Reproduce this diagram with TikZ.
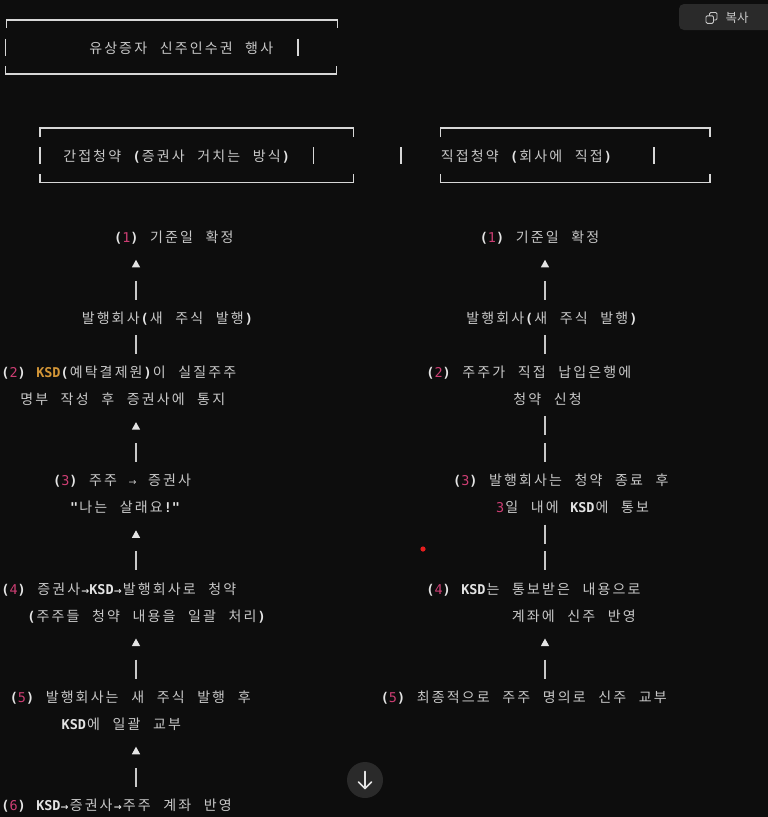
\documentclass[tikz,border=0pt]{standalone}
\usepackage{fontspec}
\usetikzlibrary{calc}
\newfontfamily\krf{Noto Sans CJK KR}
\newfontfamily\asf{DejaVu Sans Mono}
\newfontfamily\syf{DejaVu Sans}
\definecolor{bg}{RGB}{13,13,13}
\definecolor{txt}{RGB}{200,200,200}
\definecolor{wh}{RGB}{228,228,228}
\definecolor{pk}{RGB}{205,62,115}
\definecolor{orng}{RGB}{212,150,55}
\definecolor{frame}{RGB}{215,215,215}
\definecolor{btn}{RGB}{42,42,42}
\definecolor{reddot}{RGB}{230,30,30}

\ExplSyntaxOn
\dim_new:N \l__rs_a_dim
\dim_new:N \l__rs_h_dim
\dim_new:N \l__rs_s_dim
\dim_set:Nn \l__rs_a_dim {8.1pt}
\dim_set:Nn \l__rs_h_dim {15pt}
\dim_set:Nn \l__rs_s_dim {10.5pt}
\tl_new:N \l__rs_line_tl
\cs_new_protected:Npn \rssp { \hbox_to_wd:nn { \l__rs_s_dim } { } }
\cs_new_protected:Npn \rsarr
  { \hbox_to_wd:nn { \l__rs_a_dim } { \hss \syf\fontsize{9.5}{10}\selectfont → \hss } }
\cs_new_protected:Npn \__rs_item:n #1
  {
    \tl_if_single_token:nTF {#1}
      {
        \token_if_cs:NTF #1
          { #1 }
          {
            \int_compare:nNnTF { `#1 } > { 255 }
              { \hbox_to_wd:nn { \l__rs_h_dim } { \hss \krf\fontsize{14}{16}\selectfont #1 \hss } }
              { \hbox_to_wd:nn { \l__rs_a_dim } { \hss \asf\fontsize{13.5}{16}\selectfont #1 \hss } }
          }
      }
      { #1 }
  }
\NewDocumentCommand \mono { m }
  {
    \tl_set:Nn \l__rs_line_tl {#1}
    \tl_replace_all:Nnn \l__rs_line_tl { ~ } { \rssp }
    \tl_map_function:NN \l__rs_line_tl \__rs_item:n
  }
\ExplSyntaxOff

\newcommand\cpk{\color{pk}\mdseries}
\newcommand\cbd{\color{wh}\bfseries}
\newcommand\cor{\color{orng}\bfseries}
\newcommand\cnm{\color{txt}\mdseries}

\tikzset{
  ln/.style={anchor=base west, inner sep=0pt, text height=11pt, text depth=3.5pt, text=txt},
  frm/.style={draw=frame, line width=1.3pt},
  sidebar/.style={draw=frame, line width=1.6pt},
  vbar/.pic={\draw[draw=txt, line width=1.8pt] (0,-9.5) -- (0,9.5);},
  uptri/.pic={\fill[wh] (-4.2,3.8) -- (4.2,3.8) -- (0,-3.8) -- cycle;},
}
\newcommand\uplink[3]{%
  \pic at ($(#1 |- #2.south)+(0,17.5)$) {uptri};
  \pic at ($(#1 |- #3.north)+(0,-22)$) {vbar};
}
\newcommand\barlink[3]{%
  \pic at ($(#1 |- #2.south)+(0,17.5)$) {vbar};
}
\newcommand\dbarlink[3]{%
  \pic at ($(#1 |- #2.south)+(0,17.5)$) {vbar};
  \pic at ($(#1 |- #3.north)+(0,-22)$) {vbar};
}

\begin{document}
\begin{tikzpicture}[x=1pt,y=-1pt]
\useasboundingbox (0,0) rectangle (768,817);
\fill[bg] (0,0) rectangle (768,817);

% ---------- header boxes ----------
\draw[frm] (6.5,28) -- (6.5,20) -- (337.5,20) -- (337.5,28);
\draw[frm] (5.5,66) -- (5.5,74) -- (336.5,74) -- (336.5,66);
\draw[sidebar] (5.5,38.5) -- (5.5,56);
\draw[sidebar] (297.7,38.5) -- (297.7,56);
\node[ln] (title) at (88,53.05) {\mono{유상증자 신주인수권 행사}};

\draw[frm] (40,137) -- (40,128) -- (353.3,128) -- (353.3,137);
\draw[frm] (40,174) -- (40,182.7) -- (353.3,182.7) -- (353.3,174);
\draw[sidebar] (40,147) -- (40,164);
\draw[sidebar] (313.3,147) -- (313.3,164);
\node[ln] (hl) at (62,161.25) {\mono{간접청약 \cbd(\cnm 증권사 거치는 방식\cbd)}};

\draw[frm] (440.7,137) -- (440.7,128) -- (710,128) -- (710,137);
\draw[frm] (440.7,174) -- (440.7,182.7) -- (710,182.7) -- (710,174);
\draw[sidebar] (400.7,147) -- (400.7,164);
\draw[sidebar] (654,147) -- (654,164);
\node[ln] (hr) at (439.5,161.25) {\mono{직접청약 \cbd(\cnm 회사에 직접\cbd)}};

% ---------- column axes ----------
\coordinate (L) at (136,0);
\coordinate (R) at (545,0);

% ---------- left column ----------
\node[ln] (l1)  at (114,242.4)   {\mono{\cbd(\cpk1\cbd) \cnm 기준일 확정}};
\node[ln] (l1b) at (80.5,323.55) {\mono{발행회사\cbd(\cnm 새 주식 발행\cbd)}};
\node[ln] (l2a) at (1.3,377.65)  {\mono{\cbd(\cpk2\cbd) \cor KSD\cbd(\cnm 예탁결제원\cbd)\cnm 이 실질주주}};
\node[ln] (l2b) at (19,404.7)    {\mono{명부 작성 후 증권사에 통지}};
\node[ln] (l3a) at (53,485.85)   {\mono{\cbd(\cpk3\cbd) \cnm 주주 \rsarr\rssp 증권사}};
\node[ln] (l3b) at (70,512.9)    {\mono{\cbd"\cnm 나는 살래요\cbd!"}};
\node[ln] (l4a) at (1.3,594.05)  {\mono{\cbd(\cpk4\cbd) \cnm 증권사\cbd\rsarr KSD\rsarr\cnm 발행회사로 청약}};
\node[ln] (l4b) at (27.3,621.1)  {\mono{\cbd(\cnm 주주들 청약 내용을 일괄 처리\cbd)}};
\node[ln] (l5a) at (9.7,702.25)  {\mono{\cbd(\cpk5\cbd) \cnm 발행회사는 새 주식 발행 후}};
\node[ln] (l5b) at (61.5,729.3)  {\mono{\cbd KSD\cnm 에 일괄 교부}};
\node[ln] (l6)  at (1.3,810.45)  {\mono{\cbd(\cpk6\cbd) KSD\rsarr\cnm 증권사\cbd\rsarr\cnm 주주 계좌 반영}};

\uplink{L}{l1}{l1b}
\barlink{L}{l1b}{l2a}
\uplink{L}{l2b}{l3a}
\uplink{L}{l3b}{l4a}
\uplink{L}{l4b}{l5a}
\uplink{L}{l5b}{l6}

% ---------- right column ----------
\node[ln] (r1)  at (479.7,242.4)  {\mono{\cbd(\cpk1\cbd) \cnm 기준일 확정}};
\node[ln] (r1b) at (465,323.55)   {\mono{발행회사\cbd(\cnm 새 주식 발행\cbd)}};
\node[ln] (r2a) at (426.3,377.65) {\mono{\cbd(\cpk2\cbd) \cnm 주주가 직접 납입은행에}};
\node[ln] (r2b) at (512,404.7)    {\mono{청약 신청}};
\node[ln] (r3a) at (453,485.85)   {\mono{\cbd(\cpk3\cbd) \cnm 발행회사는 청약 종료 후}};
\node[ln] (r3b) at (496,512.9)    {\mono{\cpk3\cnm 일 내에 \cbd KSD\cnm 에 통보}};
\node[ln] (r4a) at (426.3,594.05) {\mono{\cbd(\cpk4\cbd) KSD\cnm 는 통보받은 내용으로}};
\node[ln] (r4b) at (510.5,621.1)  {\mono{계좌에 신주 반영}};
\node[ln] (r5)  at (380.7,702.25) {\mono{\cbd(\cpk5\cbd) \cnm 최종적으로 주주 명의로 신주 교부}};

\uplink{R}{r1}{r1b}
\barlink{R}{r1b}{r2a}
\dbarlink{R}{r2b}{r3a}
\dbarlink{R}{r3b}{r4a}
\uplink{R}{r4b}{r5}

% ---------- UI decorations ----------
\begin{scope}
\clip (0,0) rectangle (768,817);
\fill[btn, rounded corners=5pt] (679,4) rectangle (790,30);
\end{scope}
\draw[txt, line width=0.9pt, rounded corners=1.2pt] (709.5,12.5) rectangle (717,20);
\fill[btn] (706,15.8) rectangle (713.5,23.3);
\draw[txt, line width=0.9pt, rounded corners=1.2pt] (706,15.8) rectangle (713.5,23.3);
\node[text=txt, inner sep=0pt, font=\krf\fontsize{12.5}{14}\selectfont] (copy) at (737,17.5) {복사};

\fill[btn] (365,780) circle (18);
\coordinate (dtop) at (365,771.5);
\coordinate (dbot) at (365,788.5);
\draw[wh, line width=1.6pt, line cap=round] (dtop) -- (dbot);
\draw[wh, line width=1.6pt, line cap=round, line join=round] (358.5,782) -- (dbot) -- (371.5,782);

\fill[reddot] (423,549) circle (2.6);
\end{tikzpicture}
\end{document}
